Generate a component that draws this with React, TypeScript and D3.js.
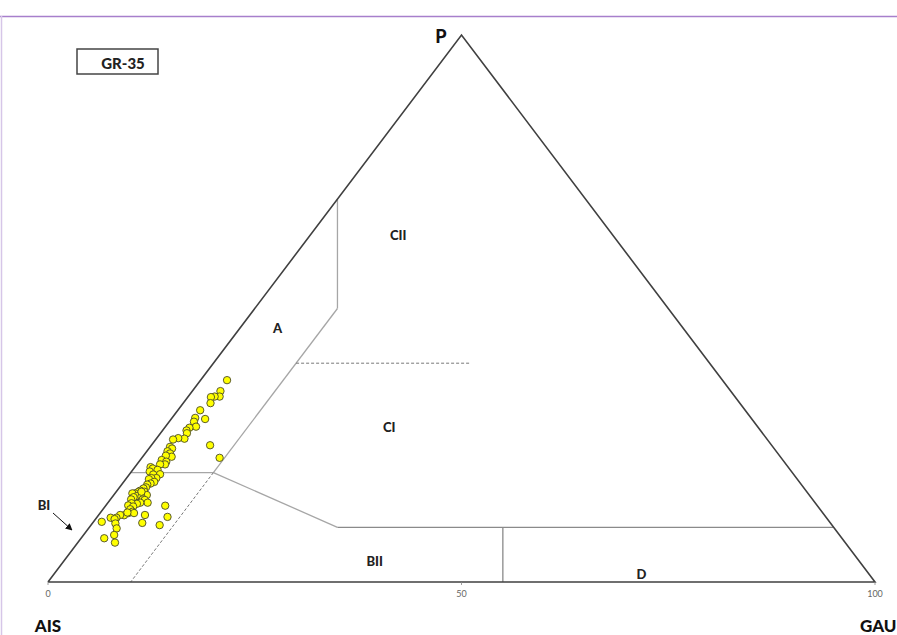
import React from "react";
import * as d3 from "d3";

// Sample points: [P %, GAU %] (AIS = 100 - P - GAU)
const pValues = [36.9,34.9,33.9,33.9,33.8,32.7,31.4,29.8,30.0,29.3,28.4,28.2,27.7,27.2,26.2,26.3,26.05,25.0,22.7,24.7,24.4,23.9,23.5,22.9,23.1,22.3,22.0,21.5,21.5,21.0,20.75,20.5,20.2,19.7,19.65,19.0,19.0,18.8,18.3,18.0,17.8,17.3,17.1,16.7,16.5,16.5,16.2,16.2,15.9,15.7,15.6,15.5,15.1,15.1,15.0,14.5,14.5,14.3,14.4,14.0,13.8,13.3,12.85,12.6,12.6,12.2,12.25,11.75,11.75,11.5,10.7,9.8,11.0,8.0,8.6,7.2,12.25,10.8,13.95,11.9,10.4,16.5,12.7];
const gauValues = [3.2,3.4,3.8,3.2,2.8,3.3,2.7,4.1,2.8,3.0,3.7,3.0,2.9,3.2,3.4,2.6,2.1,7.1,9.4,2.4,2.8,2.5,3.0,3.5,2.7,2.6,3.3,3.4,2.8,1.9,2.3,3.0,2.2,3.7,2.9,3.6,3.0,2.8,3.7,3.4,3.1,3.2,3.0,2.8,3.4,2.7,2.4,2.1,4.0,2.9,3.5,2.6,2.5,3.9,4.2,4.8,3.9,3.6,2.9,2.7,3.4,3.3,3.8,3.4,4.1,3.1,2.6,2.4,1.7,2.3,2.8,3.4,1.0,2.8,3.7,4.5,5.6,6.0,7.2,8.5,8.3,3.05,3.25];

// Field boundaries: [P, GAU] endpoints
const solidBoundaries = [
  [[70, 0], [50, 10]],
  [[50, 10], [20, 10]],
  [[20, 0], [20, 10]],
  [[20, 10], [10, 30]],
  [[10, 30], [10, 90]],
  [[10, 50], [0, 55]],
];
const dashedBoundaries = [
  [[20, 10], [0, 10]],
  [[40, 10], [40, 31]],
];

// Field labels: name, P, GAU
const fieldNames = ["CII", "A", "CI", "BII", "D"];
const fieldP = [62.5, 45.5, 27.5, 3.0, 0.5];
const fieldGau = [11.1, 5.0, 27.5, 38.0, 71.5];

const tickValues = [0, 50, 100];

export default function App() {
  const W = 897;
  const H = 635;
  const xs = d3.scaleLinear().domain([0, 100]).range([48, 875]);
  const ys = d3.scaleLinear().domain([0, 100]).range([582, 35]);
  const proj = (p: number, g: number): [number, number] => [xs(g + p / 2), ys(p)];
  const line = d3.line<[number, number]>();

  const tri = line([proj(0, 0), proj(100, 0), proj(0, 100), proj(0, 0)]);
  const font = "Lato, 'Open Sans', 'Liberation Sans', sans-serif";

  return (
    <svg
      width={W}
      height={H}
      style={{ position: "absolute", left: 0, top: 0, background: "#fff" }}
    >
      <defs>
        <marker id="arr" viewBox="0 0 10 10" refX="9" refY="5" markerWidth="7" markerHeight="7" orient="auto">
          <path d="M0,0 L10,5 L0,10 z" fill="#111" />
        </marker>
      </defs>
      <line x1={0} x2={W} y1={16.5} y2={16.5} stroke="#a77fcc" strokeWidth={1.5} />
      <line x1={1.5} x2={1.5} y1={16} y2={H} stroke="#d6c6e8" strokeWidth={1.5} />

      {solidBoundaries.map((s, i) => (
        <path
          key={"s" + i}
          d={line(s.map((d) => proj(d[0], d[1])) as [number, number][]) || ""}
          stroke={i >= 4 ? "#8a8a8a" : "#a6a6a6"}
          strokeWidth={1.3}
          fill="none"
        />
      ))}
      {dashedBoundaries.map((s, i) => (
        <path
          key={"d" + i}
          d={line(s.map((d) => proj(d[0], d[1])) as [number, number][]) || ""}
          stroke="#777"
          strokeWidth={1}
          strokeDasharray="3,2"
          fill="none"
        />
      ))}

      <path d={tri || ""} stroke="#404040" strokeWidth={1.6} fill="none" />

      {tickValues.map((t) => (
        <g key={"t" + t}>
          <line x1={xs(t)} x2={xs(t)} y1={582} y2={585} stroke="#888" strokeWidth={0.8} />
          <text x={xs(t)} y={597} textAnchor="middle" fontSize={9} fill="#666" fontFamily={font}>
            {t}
          </text>
        </g>
      ))}

      {pValues.map((p, i) => {
        const [x, y] = proj(p, gauValues[i]);
        return <circle key={"c" + i} cx={x} cy={y} r={3.7} fill="#ffff00" stroke="#4a4a2a" strokeWidth={0.9} />;
      })}

      {fieldNames.map((n, i) => {
        const [x, y] = proj(fieldP[i], fieldGau[i]);
        return (
          <text key={n} x={x} y={y} textAnchor="middle" fontSize={13} fontWeight="900" fill="#222" fontFamily={font}>
            {n}
          </text>
        );
      })}

      <text x={44} y={510} textAnchor="middle" fontSize={13} fontWeight="900" fill="#222" fontFamily={font}>BI</text>
      <line x1={53} y1={513} x2={72} y2={530} stroke="#111" strokeWidth={1} markerEnd="url(#arr)" />

      <text x={441} y={43} textAnchor="middle" fontSize={18} fontWeight="900" fill="#111" fontFamily={font}>P</text>
      <text x={48} y={632} textAnchor="middle" fontSize={17} fontWeight="900" fill="#111" fontFamily={font}>AIS</text>
      <text x={860} y={632} textAnchor="start" fontSize={17} fontWeight="900" fill="#111" fontFamily={font}>GAU</text>

      <rect x={77} y={49} width={81} height={25} fill="#fff" stroke="#444" strokeWidth={1.5} />
      <text x={123} y={69} textAnchor="middle" fontSize={15} fontWeight="900" fill="#222" fontFamily={font}>GR-35</text>
    </svg>
  );
}
